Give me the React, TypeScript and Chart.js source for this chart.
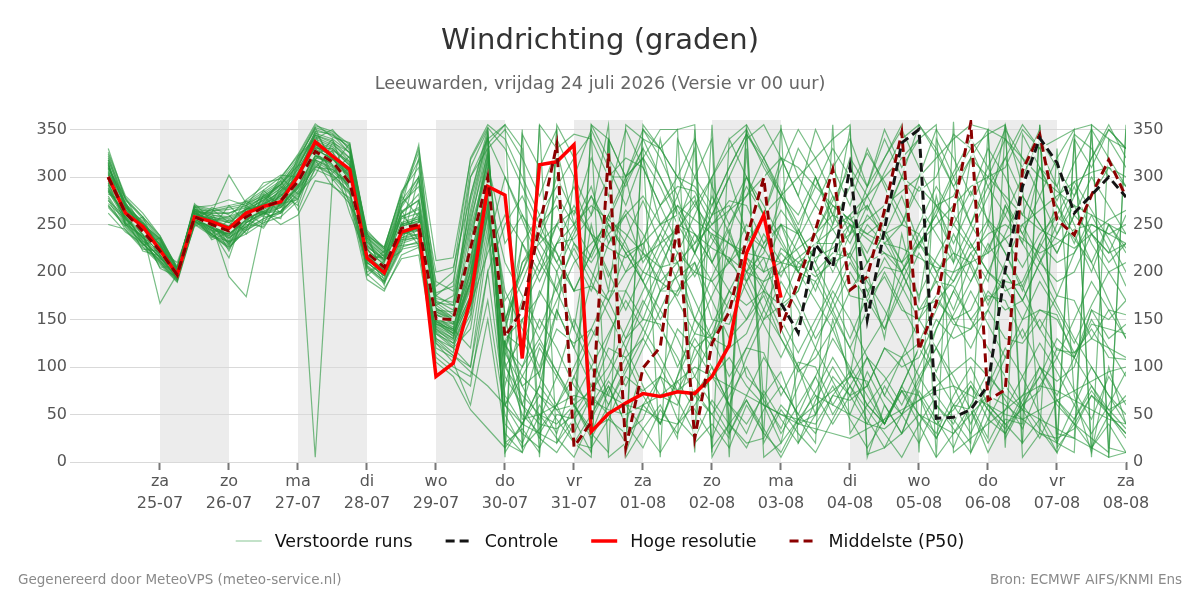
import React, { useEffect, useRef } from 'react';
import { Chart, registerables } from 'chart.js';

Chart.register(...registerables);

const FONT = "'DejaVu Sans', sans-serif";

// Lead time in hours after vrijdag 24-07 00 uur (6-hourly steps)
const leadHours = [
  6, 12, 18, 24, 30, 36, 42, 48, 54, 60, 66, 72, 78, 84, 90, 96, 102, 108, 114, 120,
  126, 132, 138, 144, 150, 156, 162, 168, 174, 180, 186, 192, 198, 204, 210, 216, 222, 228, 234, 240,
  246, 252, 258, 264, 270, 276, 282, 288, 294, 300, 306, 312, 318, 324, 330, 336, 342, 348, 354, 360,
];

// Day ticks (midnight) and their labels
const dayTickHours = [24, 48, 72, 96, 120, 144, 168, 192, 216, 240, 264, 288, 312, 336, 360];
const weekdays = ['za', 'zo', 'ma', 'di', 'wo', 'do', 'vr', 'za', 'zo', 'ma', 'di', 'wo', 'do', 'vr', 'za'];
const dates = ['25-07', '26-07', '27-07', '28-07', '29-07', '30-07', '31-07', '01-08', '02-08', '03-08', '04-08', '05-08', '06-08', '07-08', '08-08'];

// Start hours of the alternating grey day bands
const shadedDayStarts = [24, 72, 120, 168, 216, 264, 312];

const yTickValues = [0, 50, 100, 150, 200, 250, 300, 350];

// High resolution run (first 10 days)
const hogeResolutie = [
  300, 262, 248, 223, 197, 258, 253, 246, 262, 269, 274, 301, 337, 322, 308, 215, 199, 242, 248, 90,
  104, 171, 290, 281, 109, 313, 316, 334, 32, 51, 62, 72, 69, 74, 72, 90, 123, 220, 260, 173,
];

// Ensemble median
const middelste = [
  300, 262, 243, 222, 197, 258, 250, 243, 258, 268, 275, 295, 327, 316, 294, 220, 205, 246, 250, 151,
  150, 225, 300, 132, 160, 248, 334, 16, 42, 325, 15, 99, 121, 252, 25, 125, 158, 235, 299, 141,
  190, 244, 308, 181, 195, 265, 347, 118, 167, 265, 357, 65, 76, 307, 345, 255, 239, 281, 318, 279,
];

// Control run, shown from day 10 onwards
const controleStartHour = 240;
const controle = [167, 136, 229, 205, 311, 150, 245, 336, 350, 46, 47, 55, 81, 202, 290, 341, 315, 262, 281, 300, 279];

// Perturbed ensemble members
const verstoordeRuns: number[][] = [
  [305,266,244,225,198,262,252,246,262,271,283,300,332,322,306,224,206,250,256,160,150,210,305,135,120,180,150,300,260,355,10,60,40,90,150,120,240,200,220,280,260,300,250,350,5,60,30,80,140,180,220,190,270,230,310,290,345,330,300,280],
  [288,257,234,216,194,256,247,236,255,264,272,290,324,314,296,214,200,240,245,148,138,185,295,120,60,40,35,50,80,70,60,55,45,40,60,90,110,80,60,50,45,60,75,90,120,150,200,230,210,190,220,240,250,235,220,230,245,250,240,230],
  [322,272,252,232,202,266,260,256,266,275,288,308,340,332,314,230,213,258,268,165,152,230,320,150,200,250,270,230,210,240,260,280,250,220,200,190,210,230,260,280,300,320,340,355,8,15,30,50,40,30,50,70,60,45,30,20,10,355,340,330],
  [278,250,230,212,192,253,243,230,248,260,268,285,318,308,290,210,196,236,240,130,120,100,200,60,30,15,50,45,70,120,110,130,180,180,200,240,210,190,215,160,180,230,230,250,210,220,200,160,170,190,230,200,185,150,160,150,115,130,120,110],
  [298,262,241,221,197,258,251,243,258,268,277,296,329,318,301,219,204,246,251,150,140,190,300,140,210,230,250,265,240,225,215,230,250,270,255,240,230,215,200,210,225,240,260,250,235,220,210,230,250,270,290,300,280,260,245,235,225,240,255,265],
  [312,268,248,229,200,264,262,302,272,280,292,312,344,338,320,234,216,264,275,175,165,260,340,355,15,35,60,90,130,170,200,215,230,245,270,300,330,350,5,20,45,70,60,50,40,35,50,65,80,95,110,90,70,55,45,35,25,15,5,355],
  [285,254,233,215,193,255,246,235,252,263,271,289,323,311,295,213,199,240,244,145,135,175,285,125,90,70,55,60,75,100,140,180,220,250,240,225,215,200,190,200,215,230,245,260,280,300,320,340,355,10,25,40,55,70,80,75,65,55,45,40],
  [300,264,242,223,196,259,252,244,259,268,276,295,328,318,300,218,204,244,250,152,142,195,298,135,160,200,230,250,270,255,240,220,205,210,230,250,265,280,300,320,310,290,270,255,240,230,225,215,205,200,210,220,235,250,265,280,295,305,310,300],
  [330,276,256,234,203,269,264,266,270,278,290,310,348,345,325,238,220,272,290,190,180,265,345,10,40,80,160,120,190,250,220,230,180,195,210,170,130,150,175,130,95,110,140,95,60,85,110,70,40,55,80,45,30,60,75,120,110,160,150,170],
  [270,247,227,210,190,251,240,226,244,256,264,280,314,303,284,207,193,230,236,135,125,160,270,100,70,50,40,60,30,10,355,340,330,300,290,260,270,240,225,250,200,190,215,175,170,195,160,150,175,145,140,160,130,125,150,118,115,140,110,108],
  [294,270,236,226,195,250,262,232,270,258,290,276,336,304,322,212,218,238,262,148,138,188,295,128,45,50,60,70,65,55,50,60,70,85,100,90,80,70,60,50,40,35,30,25,35,45,55,65,75,80,70,60,50,45,55,65,75,85,95,100],
  [308,255,248,214,201,268,240,255,246,280,262,312,318,340,288,236,198,265,232,162,150,215,310,145,230,260,290,320,345,5,20,350,330,300,270,245,230,220,215,210,205,215,225,240,255,270,285,300,320,340,355,350,340,320,300,285,270,260,250,240],
  [292,265,228,236,192,262,255,222,262,250,285,300,345,296,310,208,222,228,300,146,136,182,290,122,100,130,170,210,230,250,225,200,190,210,150,130,160,90,70,95,45,40,70,65,80,120,110,125,170,150,160,200,180,190,230,210,220,250,240,250],
  [315,249,258,219,199,252,268,260,240,274,296,265,310,328,270,242,190,280,258,168,155,225,325,155,60,25,10,40,355,340,300,320,250,260,280,210,245,190,230,265,240,300,260,320,290,350,310,340,5,358,10,60,40,55,100,85,100,160,130,145],
  [282,274,238,205,206,266,236,248,275,262,256,318,352,312,335,196,212,244,320,142,130,172,282,115,80,95,140,125,140,180,180,220,190,175,210,150,145,190,150,165,210,195,210,250,240,255,300,285,300,345,330,345,355,5,30,25,35,70,55,65],
  [250,245,226,208,189,250,238,232,240,252,258,275,5,298,275,205,190,228,230,125,112,95,80,60,40,30,60,20,15,45,30,45,90,75,90,130,120,135,180,165,180,230,210,220,260,240,250,290,270,280,320,300,310,350,330,340,350,355,5,10],
  [318,270,250,235,206,266,256,248,264,276,292,318,352,346,330,240,222,275,300,200,205,280,350,20,10,355,330,345,340,300,320,310,270,290,285,250,275,270,230,250,240,200,220,215,180,205,200,160,190,185,150,175,170,130,160,155,110,145,140,135],
  [302,260,252,228,196,270,246,270,252,286,268,292,338,322,284,226,186,252,228,155,145,200,300,130,150,175,230,235,260,300,300,320,350,350,355,5,40,20,25,60,40,50,90,70,80,120,100,110,150,130,140,180,160,170,210,190,200,240,220,230],
  [275,258,222,217,194,248,258,228,266,270,300,282,302,336,316,200,210,222,275,138,128,165,275,105,50,30,20,60,35,45,90,75,90,140,120,135,180,165,180,225,210,225,270,255,270,230,250,240,200,220,210,170,190,185,140,175,170,130,160,155],
  [309,278,246,222,210,261,250,238,256,246,274,305,330,300,298,222,202,260,242,158,148,205,303,138,210,240,220,180,185,170,130,150,145,100,135,130,90,120,115,70,105,100,60,90,85,40,75,70,25,60,55,10,45,40,355,30,25,350,15,10],
  [286,262,242,167,198,264,244,215,268,260,282,270,322,320,262,216,215,234,236,120,110,150,260,40,20,60,30,90,50,80,40,100,70,60,120,90,60,40,70,30,60,90,50,80,110,70,50,90,60,40,80,55,30,65,90,60,40,70,50,30],
  [316,252,236,224,193,256,266,252,244,282,270,322,340,350,328,244,224,285,310,170,160,230,330,350,320,280,330,250,290,230,260,210,240,280,220,260,300,240,200,250,220,180,230,260,210,240,280,230,260,300,250,220,270,240,210,250,290,240,220,260],
  [262,242,230,212,196,260,234,242,258,264,250,260,296,292,272,192,180,218,226,130,115,240,310,80,150,90,200,140,250,180,300,220,340,260,10,300,40,330,60,20,100,50,150,90,200,130,240,170,280,210,320,250,355,290,30,330,70,10,100,40],
  [296,266,250,230,199,272,254,258,276,290,302,300,348,318,306,232,212,270,334,155,148,300,330,20,35,10,350,20,5,340,10,355,330,350,20,40,15,60,30,10,45,20,355,30,60,40,80,50,30,70,100,60,40,20,355,15,40,25,10,350],
  [290,256,240,204,195,252,250,236,248,262,264,288,310,308,292,214,200,242,238,140,130,200,280,120,170,210,180,230,200,170,220,190,160,200,240,210,180,150,190,220,200,170,140,180,210,240,200,230,260,220,190,230,200,170,210,240,270,230,200,210],
  [326,280,262,238,204,268,270,276,270,294,298,324,356,342,336,238,226,282,318,175,190,300,340,60,100,150,120,80,60,90,130,170,140,110,70,50,80,120,160,130,100,70,40,70,110,90,60,100,140,180,150,120,90,60,90,130,110,80,50,70],
  [276,244,224,222,192,258,240,224,250,248,272,276,318,290,278,198,182,214,218,110,95,80,200,250,280,240,300,260,320,280,350,310,270,300,340,290,250,280,320,350,300,270,310,340,290,320,355,10,340,300,330,290,260,300,340,310,280,320,350,330],
  [303,264,246,220,200,262,256,246,262,272,280,298,334,326,304,222,206,248,254,150,135,175,270,110,230,200,250,215,180,230,265,240,205,245,275,235,210,250,225,195,235,270,245,215,250,230,200,240,270,250,225,255,235,205,240,260,235,210,250,225],
  [284,260,232,226,197,254,244,240,254,266,276,292,326,312,296,216,202,236,244,145,140,120,240,70,40,80,55,30,70,50,20,60,90,45,25,65,40,15,55,80,50,30,70,95,60,40,75,50,25,60,85,55,35,70,100,65,45,80,55,35],
  [310,272,242,218,201,266,258,254,266,270,286,306,330,330,312,228,210,256,262,160,158,220,290,180,140,100,160,120,80,130,180,150,200,250,220,280,240,300,260,320,280,350,310,270,330,290,250,300,350,320,280,330,300,260,310,270,230,280,310,290],
  [294,250,238,228,194,258,248,230,252,262,268,290,320,316,290,212,200,240,246,135,120,140,250,90,60,120,90,150,110,70,120,80,40,90,130,100,60,110,150,190,160,120,170,210,180,140,190,230,200,160,210,250,220,180,230,270,240,200,250,220],
  [314,268,254,222,199,262,262,262,268,278,292,314,344,336,326,236,218,268,296,168,165,250,335,355,330,5,340,300,350,310,270,320,290,250,300,340,5,350,310,280,330,300,260,230,270,240,210,250,290,260,230,200,240,280,250,220,260,300,270,240],
  [272,256,236,214,205,256,250,195,174,258,262,284,316,306,288,210,196,232,238,125,105,60,150,30,10,50,25,5,45,80,40,15,55,30,70,100,60,30,75,45,20,65,100,70,40,80,50,20,60,35,10,45,80,55,25,65,40,15,50,30],
  [300,262,240,230,196,264,252,244,256,268,280,298,328,320,302,220,206,250,252,150,145,190,300,170,200,240,210,180,220,260,230,190,150,180,220,190,160,200,240,210,170,130,160,200,170,140,180,220,190,150,120,160,200,170,140,110,150,190,160,130],
  [306,270,244,218,198,260,256,252,264,272,286,304,336,328,316,226,214,262,276,158,150,280,345,15,350,25,355,320,10,340,300,350,320,280,330,10,340,300,260,310,350,320,280,240,290,340,300,355,330,290,250,300,340,310,350,20,340,310,350,330],
  [288,258,246,224,196,258,246,238,260,266,274,294,322,314,298,218,202,238,248,140,125,165,220,260,230,190,230,270,240,200,160,200,240,210,170,130,170,210,180,140,100,140,180,150,110,70,110,150,120,80,40,80,120,90,50,20,60,100,70,40],
  [268,248,230,210,191,254,238,226,244,254,262,278,308,300,282,204,188,224,228,105,90,55,35,15,40,70,45,20,50,85,60,35,10,40,75,50,25,355,20,55,30,10,45,80,55,30,5,40,70,45,20,350,25,60,35,10,45,75,50,25],
  [320,276,258,236,203,266,264,268,272,284,296,320,350,344,332,240,224,278,326,185,200,320,355,340,300,260,220,180,220,260,300,340,300,260,220,260,300,340,355,320,280,240,200,240,280,320,350,310,270,230,270,310,350,320,280,240,280,320,355,320],
  [296,264,242,220,197,260,250,242,258,270,278,296,330,318,300,220,204,246,252,152,140,210,320,100,130,90,60,100,140,110,80,120,160,130,90,60,30,70,110,80,50,90,130,100,70,40,80,120,90,60,30,70,110,140,100,70,110,150,120,90],
  [304,262,248,226,199,262,254,248,262,274,284,302,334,322,308,224,208,252,258,162,152,245,315,230,260,230,200,240,280,250,220,190,230,270,240,210,250,290,260,230,200,240,280,250,220,260,300,270,240,210,250,290,320,280,250,220,260,240,210,230],
  [292,258,236,218,195,256,246,240,256,264,274,292,326,314,296,214,200,242,246,148,132,170,260,140,80,45,90,60,30,75,110,70,40,85,55,25,70,100,65,35,80,120,85,50,95,60,30,75,45,15,60,95,65,35,80,110,75,45,90,60],
  [312,270,250,232,201,264,260,258,266,280,292,312,342,334,320,232,216,262,282,172,168,275,340,300,255,210,250,290,240,195,235,275,230,190,150,195,235,200,160,205,245,210,170,130,175,215,185,150,195,240,205,165,210,250,215,175,220,260,225,185],
  [270,250,230,212,192,254,240,228,246,256,264,282,312,302,284,206,190,226,232,115,100,90,170,50,15,355,20,45,10,340,5,35,60,25,350,15,40,65,30,355,20,50,80,45,15,45,75,40,5,30,60,25,355,20,45,10,340,15,40,10],
  [298,262,244,222,196,260,252,246,260,268,280,298,328,320,302,220,206,248,254,143,133,190,285,210,175,140,185,225,190,155,120,165,205,170,135,175,215,180,145,110,150,190,155,120,160,200,165,130,95,140,180,145,110,150,190,160,125,165,200,170],
  [318,272,252,234,202,268,262,262,270,282,294,316,346,340,326,236,220,270,300,178,185,310,350,5,345,310,350,15,355,320,290,330,5,340,300,270,310,345,320,285,250,290,330,300,265,305,340,355,325,290,320,350,15,345,310,275,315,350,320,290],
  [280,252,232,216,193,256,244,232,252,262,270,288,318,310,290,210,196,234,240,128,112,100,230,300,260,220,180,140,100,60,100,140,180,220,260,300,340,355,320,280,240,200,160,120,80,40,80,120,160,200,240,280,320,355,330,290,250,210,170,130],
  [300,266,242,224,198,262,254,246,262,270,282,300,332,322,304,222,208,250,256,156,146,200,295,60,90,125,95,65,100,135,170,140,110,75,110,145,180,215,185,150,115,150,185,220,190,160,125,90,120,155,190,225,260,230,200,165,130,100,70,50],
  [310,268,250,228,200,264,258,252,266,276,288,308,338,330,312,228,212,258,266,165,175,255,325,150,190,235,280,250,215,255,295,330,300,265,230,270,310,345,315,280,245,210,250,290,325,295,260,225,265,305,340,310,275,240,280,320,350,5,340,310],
  [286,260,240,220,196,258,248,240,256,266,276,294,326,316,298,216,202,242,248,137,122,155,265,125,165,130,95,60,25,60,95,130,100,65,30,355,30,65,35,5,40,75,110,80,45,15,50,85,120,90,55,20,55,90,125,95,60,30,60,95],
  [324,278,258,238,204,270,266,270,274,286,300,322,354,348,334,242,226,282,330,212,215,318,352,330,290,250,210,245,280,240,200,235,270,230,195,230,265,300,270,235,200,240,275,310,280,245,210,175,215,250,285,255,220,185,225,260,295,265,235,200],
];

const RUN_COLOR = 'rgba(38,150,60,0.62)';
const RUN_LEGEND_COLOR = 'rgba(38,150,60,0.55)';
const CONTROL_COLOR = '#141414';
const HIRES_COLOR = '#ff0000';
const MEDIAN_COLOR = '#8b0000';
const HALO_COLOR = 'rgba(255,255,255,0.8)';

const toPoints = (values: number[], offset = 0) =>
  values.map((v, k) => ({ x: leadHours[k + offset], y: v }));

const legendItems = [
  { label: 'Verstoorde runs', color: RUN_LEGEND_COLOR, width: 1, dash: [] as number[] },
  { label: 'Controle', color: CONTROL_COLOR, width: 3, dash: [9, 5] },
  { label: 'Hoge resolutie', color: HIRES_COLOR, width: 3.5, dash: [] as number[] },
  { label: 'Middelste (P50)', color: MEDIAN_COLOR, width: 3, dash: [9, 5] },
];

const decorPlugin = {
  id: 'decor',
  beforeDraw(chart: any) {
    const { ctx, chartArea, scales } = chart;
    const x = scales.x;
    ctx.save();
    ctx.fillStyle = '#ececec';
    shadedDayStarts.forEach((h) => {
      const x0 = Math.max(chartArea.left, x.getPixelForValue(h));
      const x1 = Math.min(chartArea.right, x.getPixelForValue(h + 24));
      ctx.fillRect(x0, chartArea.top, x1 - x0, chartArea.bottom - chartArea.top);
    });
    ctx.restore();
  },
  afterDraw(chart: any) {
    const { ctx, width } = chart;
    ctx.save();
    ctx.textBaseline = 'middle';

    ctx.textAlign = 'center';
    ctx.fillStyle = '#333333';
    ctx.font = `29px ${FONT}`;
    ctx.fillText('Windrichting (graden)', width / 2, 41);

    ctx.fillStyle = '#666666';
    ctx.font = `17.7px ${FONT}`;
    ctx.fillText('Leeuwarden, vrijdag 24 juli 2026 (Versie vr 00 uur)', width / 2, 84);

    // legend
    ctx.font = `17.4px ${FONT}`;
    const sample = 26;
    const textGap = 13;
    const itemGap = 33;
    const itemWidths = legendItems.map((it) => sample + textGap + ctx.measureText(it.label).width);
    const total = itemWidths.reduce((a, b) => a + b, 0) + itemGap * (legendItems.length - 1);
    let cx = width / 2 - total / 2;
    const ly = 541;
    ctx.textAlign = 'left';
    legendItems.forEach((it, k) => {
      ctx.beginPath();
      ctx.setLineDash(it.dash);
      ctx.strokeStyle = it.color;
      ctx.lineWidth = it.width;
      ctx.moveTo(cx, ly);
      ctx.lineTo(cx + sample, ly);
      ctx.stroke();
      ctx.setLineDash([]);
      ctx.fillStyle = '#111111';
      ctx.fillText(it.label, cx + sample + textGap, ly + 1);
      cx += itemWidths[k] + itemGap;
    });

    // footer
    ctx.font = `13.5px ${FONT}`;
    ctx.fillStyle = '#8a8a8a';
    ctx.textAlign = 'left';
    ctx.fillText('Gegenereerd door MeteoVPS (meteo-service.nl)', 18, 580);
    ctx.textAlign = 'right';
    ctx.fillText('Bron: ECMWF AIFS/KNMI Ens', width - 18, 580);
    ctx.restore();
  },
};

const lineBase = { pointRadius: 0, fill: false, tension: 0 };

export default function App() {
  const canvasRef = useRef<HTMLCanvasElement | null>(null);

  useEffect(() => {
    if (!canvasRef.current) return;

    const runDatasets = verstoordeRuns.map((run, k) => ({
      ...lineBase,
      label: `run ${k + 1}`,
      data: toPoints(run),
      borderColor: RUN_COLOR,
      borderWidth: 1.2,
      order: 10,
    }));

    const controlOffset = leadHours.indexOf(controleStartHour);
    const controlPoints = toPoints(controle, controlOffset);
    const medianPoints = toPoints(middelste);

    const chart = new Chart(canvasRef.current, {
      type: 'line',
      data: {
        datasets: [
          { ...lineBase, label: 'Controle', data: controlPoints, borderColor: CONTROL_COLOR, borderWidth: 3, borderDash: [9, 5], order: 0 },
          { ...lineBase, label: 'Middelste (P50)', data: medianPoints, borderColor: MEDIAN_COLOR, borderWidth: 3, borderDash: [9, 5], order: 1 },
          { ...lineBase, label: 'Hoge resolutie', data: toPoints(hogeResolutie), borderColor: HIRES_COLOR, borderWidth: 3.5, order: 2 },
          // white halos beneath the dashed lines
          { ...lineBase, label: 'halo controle', data: controlPoints, borderColor: HALO_COLOR, borderWidth: 3, order: 3 },
          { ...lineBase, label: 'halo P50', data: medianPoints, borderColor: HALO_COLOR, borderWidth: 3, order: 4 },
          ...runDatasets,
        ] as any,
      },
      options: {
        responsive: false,
        animation: false,
        layout: { padding: { top: 120, left: 0, right: 0, bottom: 0 } },
        plugins: {
          legend: { display: false },
          title: { display: false },
          tooltip: { enabled: false },
        },
        scales: {
          x: {
            type: 'linear',
            min: -7.3,
            max: 360,
            afterBuildTicks: (scale: any) => {
              scale.ticks = dayTickHours.map((v) => ({ value: v }));
            },
            afterFit: (scale: any) => {
              scale.height = 138;
            },
            ticks: {
              autoSkip: false,
              maxRotation: 0,
              padding: 1,
              color: '#555555',
              font: { family: FONT, size: 16, lineHeight: 1.375 },
              callback: (value: any) => {
                const k = dayTickHours.indexOf(Number(value));
                return k >= 0 ? [weekdays[k], dates[k]] : '';
              },
            },
            grid: {
              drawOnChartArea: false,
              drawTicks: true,
              tickLength: 8,
              tickWidth: 2,
              tickColor: '#777777',
            },
            border: { display: false },
          },
          y: {
            position: 'left',
            min: 0,
            max: 360,
            afterBuildTicks: (scale: any) => {
              scale.ticks = yTickValues.map((v) => ({ value: v }));
            },
            afterFit: (scale: any) => {
              scale.width = 70;
            },
            ticks: {
              padding: 3,
              color: '#555555',
              font: { family: FONT, size: 16 },
            },
            grid: { color: '#d9d9d9', lineWidth: 1, drawTicks: false },
            border: { display: false },
          },
          y2: {
            position: 'right',
            min: 0,
            max: 360,
            afterBuildTicks: (scale: any) => {
              scale.ticks = yTickValues.map((v) => ({ value: v }));
            },
            afterFit: (scale: any) => {
              scale.width = 74;
            },
            ticks: {
              padding: 7,
              color: '#555555',
              font: { family: FONT, size: 16 },
            },
            grid: { display: false, drawTicks: false },
            border: { display: false },
          },
        },
      } as any,
      plugins: [decorPlugin],
    });

    return () => chart.destroy();
  }, []);

  return (
    <div style={{ position: 'absolute', left: 0, top: 0, width: 1200, height: 600, background: '#ffffff' }}>
      <canvas ref={canvasRef} width={1200} height={600} style={{ display: 'block' }} />
    </div>
  );
}
